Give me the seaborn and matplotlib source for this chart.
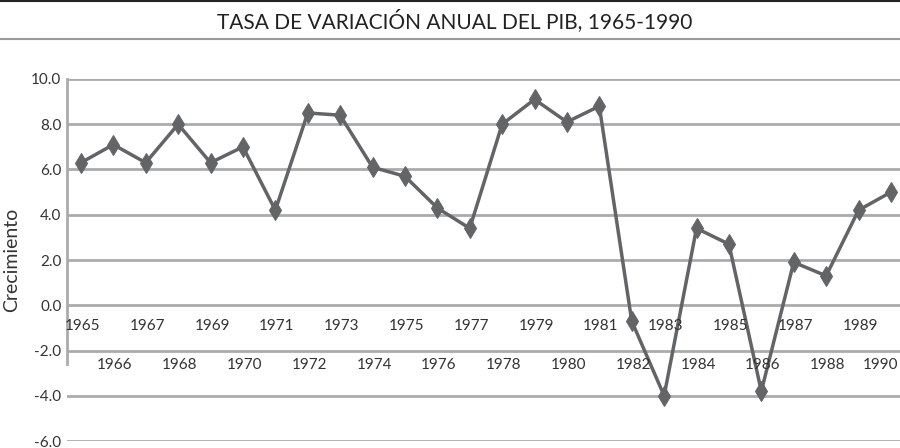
import numpy as np
import pandas as pd
import matplotlib
matplotlib.use("Agg")
import matplotlib.pyplot as plt
import seaborn as sns
from matplotlib.lines import Line2D

years = list(range(1965, 1991))
crecimiento = [6.3, 7.1, 6.3, 8.0, 6.3, 7.0, 4.2, 8.5, 8.4, 6.1, 5.7, 4.3, 3.4,
               8.0, 9.1, 8.1, 8.8, -0.7, -4.0, 3.4, 2.7, -3.8, 1.9, 1.3, 4.2, 5.0]
yticks = [-6, -4, -2, 0, 2, 4, 6, 8, 10]

df = pd.DataFrame({"year": years, "crec": crecimiento})

sns.set_style("white")
plt.rcParams['font.family'] = ['Lato', 'DejaVu Sans']

gray = "#636466"
grid_c = "#ababad"
txt = "#333333"

fig = plt.figure(figsize=(9, 4.48), dpi=100)
ax = fig.add_axes([67/900, 1 - 441/448, 1 - 67/900, (441 - 79)/448])

for v in yticks:
    ax.axhline(v, color=grid_c, lw=2, zorder=0)

sns.lineplot(data=df, x="year", y="crec", ax=ax, color=gray, lw=2.5,
             marker="d", markersize=10, markeredgecolor=gray, markerfacecolor=gray)

ax.set_ylim(-6, 10)
ax.set_xlim(1964.57, 1990.28)
ax.set_yticks(yticks)
ax.set_yticklabels([f"{v:.1f}" for v in yticks], fontsize=11, color=txt)
ax.tick_params(axis="y", length=0, pad=4)
ax.set_xticks([])
ax.set_xlabel("")
ax.set_ylabel("Crecimiento", fontsize=14, color=txt, labelpad=8)

for s in ["top", "right", "bottom"]:
    ax.spines[s].set_visible(False)
ax.spines["left"].set_color(grid_c)
ax.spines["left"].set_linewidth(2)
ax.spines["left"].set_bounds(-2.6, 10)

# year labels in two rows (odd years just under 0, even years under -2)
for yr in years:
    yy = -0.9 if yr % 2 == 1 else -2.65
    if yr == years[-1]:
        ax.annotate(str(yr), (yr, yy), xytext=(5, 0), textcoords="offset points",
                    ha="right", va="center", fontsize=11, color=txt)
    else:
        ax.text(yr + 0.05, yy, str(yr), ha="center", va="center", fontsize=11, color=txt)

# title band
fig.text(455/900, 1 - 21/448, "TASA DE VARIACIÓN ANUAL DEL PIB, 1965-1990",
         ha="center", va="center", fontsize=15, color="#222222")
fig.add_artist(Line2D([0, 1], [1 - 1/448, 1 - 1/448], color="#222222", lw=1.5))
fig.add_artist(Line2D([0, 1], [1 - 39/448, 1 - 39/448], color="#999999", lw=1.5))

fig.savefig("out.png", dpi=100)
